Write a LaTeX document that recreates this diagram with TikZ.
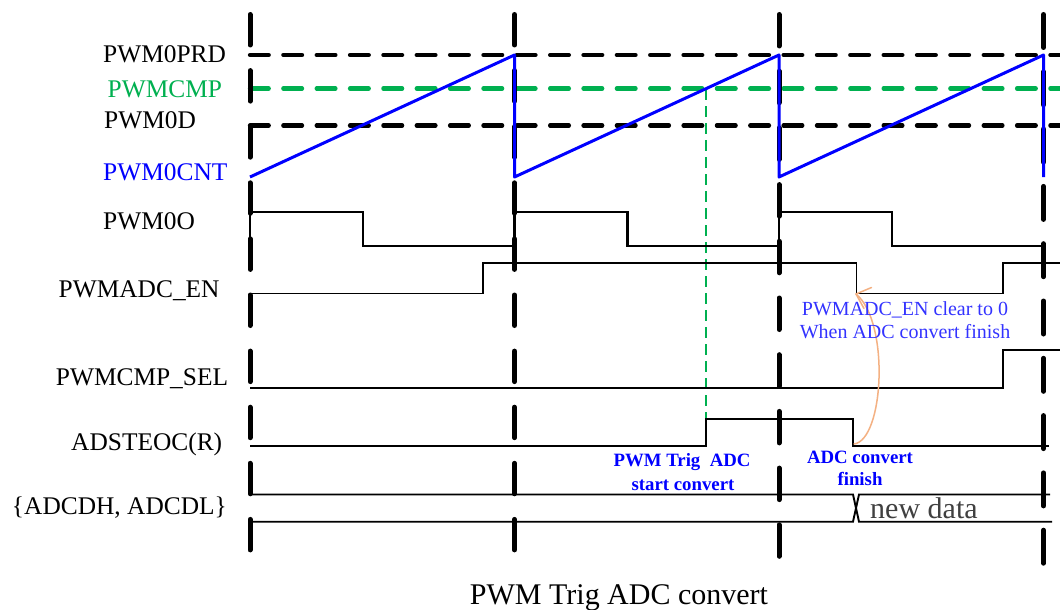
\documentclass[tikz,border=0pt]{standalone}
\usepackage{fontspec}
\setmainfont{Liberation Serif}
\usetikzlibrary{arrows.meta}
\definecolor{cmpgreen}{RGB}{0,176,80}
\definecolor{cntblue}{RGB}{0,0,255}
\definecolor{noteblue}{RGB}{51,51,255}
\definecolor{arroworange}{RGB}{244,177,131}
\definecolor{datagray}{RGB}{64,64,64}
\begin{document}
\begin{tikzpicture}[x=1pt,y=-1pt,
  lbl/.style={anchor=base west, inner sep=0pt, font=\fontsize{25.4}{30}\selectfont},
  note/.style={anchor=base, inner sep=0pt, font=\fontsize{20}{23}\selectfont, text=noteblue},
  boldnote/.style={anchor=base, inner sep=0pt, font=\bfseries\fontsize{18.8}{22}\selectfont, text=cntblue},
  hdash/.style={line width=4.3pt, line cap=round, dash pattern=on 18.7pt off 14.65pt},
  vdash/.style={line width=5pt, line cap=round},
  wave/.style={line width=1.9pt, line join=miter},
  thickwave/.style={line width=2.3pt, line join=miter},
  ramp/.style={cntblue, line width=3pt, line join=round},
  trig/.style={cmpgreen, line width=1.8pt, dash pattern=on 11pt off 6pt},
  noteline/.style={arroworange, line width=1.5pt, line cap=round, line join=round}
]
\useasboundingbox (0,0) rectangle (1060,610);
\clip (0,0) rectangle (1060,610);
\fill[white] (0,0) rectangle (1060,610);

% horizontal reference levels
\draw[hdash, black] (250,55) -- (1064,55);
\draw[hdash, cmpgreen] (250,88.5) -- (1064,88.5);
\draw[hdash, black] (250,125.5) -- (1064,125.5);

% period boundaries
\draw[vdash, dash pattern=on 30.5pt off 25.6pt] (250,14.5) -- (250,550.5);
\draw[vdash, dash pattern=on 30.5pt off 25.6pt] (514.5,14.5) -- (514.5,550.5);
\draw[vdash, dash pattern=on 31.5pt off 25.2pt] (779,14.5) -- (779,556.3);
\draw[vdash, dash pattern=on 33pt off 24.3pt] (1043.5,14.5) -- (1043.5,563.2);

% trigger line
\draw[trig] (705.7,89) -- (705.7,419);

% PWM0O
\draw[thickwave] (250,246) -- (250,212) -- (363,212) -- (363,246) -- (514.5,246) -- (514.5,212)
  -- (627.5,212) -- (627.5,246) -- (779,246) -- (779,212) -- (892,212) -- (892,246) -- (1043.5,246);

% PWMADC_EN
\draw[wave] (250,293.5) -- (483,293.5) -- (483,263) -- (856.5,263) -- (856.5,293.5)
  -- (1003,293.5) -- (1003,263) -- (1064,263);

% PWMCMP_SEL
\draw[wave] (250,388.3) -- (1003,388.3) -- (1003,350) -- (1064,350);

% ADSTEOC(R)
\draw[wave] (250,446) -- (705.7,446) -- (705.7,419) -- (852.7,419) -- (852.7,446) -- (1049,446);

% ADCDH/ADCDL bus
\draw[wave] (250,494.5) -- (853,494.5) -- (859,521.7) -- (1052,521.7);
\draw[wave] (250,521.7) -- (853,521.7) -- (859,494.5) -- (1050,494.5);

% PWM0CNT ramp
\draw[ramp] (250,177) -- (514.5,55) -- (514.5,177) -- (779,55) -- (779,177) -- (1043.5,55) -- (1043.5,177);

% orange note arrow
\coordinate (eocfall) at (854,444);
\coordinate (enfall) at (856,294);
\coordinate (barbA) at (871.5,287.5);
\coordinate (barbB) at (864,308.5);
\draw[noteline] (eocfall) .. controls (884,440) and (890,322) .. (enfall);
\draw[noteline] (barbA) -- (enfall) -- (barbB);

% labels
\node[lbl] (lprd) at (103,62.7) {PWM0PRD};
\node[lbl, text=cmpgreen] (lcmp) at (107.5,97.7) {PWMCMP};
\node[lbl] (ld) at (104,128.7) {PWM0D};
\node[lbl, text=cntblue] (lcnt) at (103,180) {PWM0CNT};
\node[lbl] (lo) at (103,229.3) {PWM0O};
\node[lbl] (len) at (58.5,297.7) {PWMADC\_EN};
\node[lbl] (lsel) at (55.7,385) {PWMCMP\_SEL};
\node[lbl] (leoc) at (71,450.7) {ADSTEOC(R)};
\node[lbl] (ldata) at (11.8,514) {\{ADCDH, ADCDL\}};

% annotations
\node[note] (n1) at (905,315) {PWMADC\_EN clear to 0};
\node[note] (n2) at (905,338.3) {When ADC convert finish};
\node[boldnote] (t1) at (682,466.7) {PWM Trig\ \ ADC};
\node[boldnote] (t2) at (683,490) {start convert};
\node[boldnote] (f1) at (860,463) {ADC convert};
\node[boldnote] (f2) at (860,485.5) {finish};
\node[anchor=base west, inner sep=0pt, font=\fontsize{30}{36}\selectfont, text=datagray] (nd) at (870,518) {new data};
\node[anchor=base, inner sep=0pt, font=\fontsize{30}{36}\selectfont] (title) at (619,604) {PWM Trig ADC convert};
\end{tikzpicture}
\end{document}
